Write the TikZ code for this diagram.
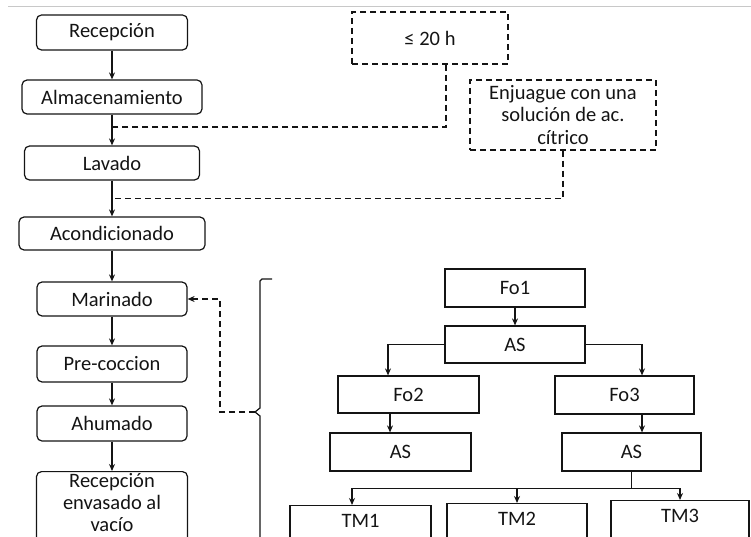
\documentclass[tikz,border=0pt]{standalone}
\usepackage{fontspec}
\setmainfont{Carlito}
\usepackage{tikz}
\usetikzlibrary{arrows.meta,positioning,calc}
\definecolor{ink}{HTML}{141414}
\definecolor{edge}{HTML}{C8C8C8}

\begin{document}
\begin{tikzpicture}[
    x=1pt, y=-1pt,
    every node/.style={font=\fontsize{20.5}{22.5}\selectfont, text=ink},
    stepbox/.style={rounded corners=5pt, draw=ink, line width=1.2pt, inner sep=0pt, minimum width=150pt, minimum height=35pt, align=center},
    treebox/.style={draw=ink, line width=1.2pt, inner sep=0pt, minimum width=140pt, minimum height=37pt, align=center},
    tmbox/.style={treebox, anchor=north, minimum height=50pt, text height=14pt, text depth=20pt},
    notebox/.style={draw=ink, line width=1.2pt, dash pattern=on 6pt off 4pt, inner sep=0pt, align=center},
    arr/.style={-{Stealth[length=7pt,width=6pt]}, line width=1.2pt, draw=ink},
    dline/.style={line width=1.2pt, draw=ink, dash pattern=on 6pt off 4pt}
  ]
  \useasboundingbox (0,0) rectangle (751,537);
  \clip (0,0) rectangle (751,537);

  \draw[edge, line width=1pt] (8,7) -- (751,7);

  % process steps
  \node[stepbox, minimum width=151pt] (rec) at (112,32.5) {Recepción};
  \node[stepbox, minimum width=180pt, minimum height=34pt] (alm) at (112,97) {Almacenamiento};
  \node[stepbox, minimum width=175pt, minimum height=34pt] (lav) at (112,163) {Lavado};
  \node[stepbox, minimum width=186pt, minimum height=33pt] (aco) at (112,233.5) {Acondicionado};
  \node[stepbox, minimum height=34pt] (mar) at (112,299) {Marinado};
  \node[stepbox, minimum height=36pt] (pre) at (112,364) {Pre-coccion};
  \node[stepbox] (ahu) at (112,423.5) {Ahumado};
  \node[stepbox, anchor=north, minimum width=151pt, minimum height=76pt, font=\fontsize{20.5}{22}\selectfont, text depth=14pt] (env) at (112,471) {Recepción\\envasado al\\vacío};

  \draw[arr] (rec) -- (alm);
  \draw[arr] (alm) -- (lav);
  \draw[arr] (lav) -- (aco);
  \draw[arr] (aco) -- (mar);
  \draw[arr] (mar) -- (pre);
  \draw[arr] (pre) -- (ahu);
  \draw[arr] (ahu) -- (env);

  % notes
  \node[notebox, minimum width=156pt, minimum height=52pt] (lim) at (430,38) {≤ 20 h};
  \node[notebox, minimum width=186pt, minimum height=70pt] (enj) at (563,115) {Enjuague con una\\solución de ac.\\cítrico};
  \coordinate (j1) at ($(alm.south)!0.4!(lav.north)$);
  \coordinate (j2) at ($(lav.south)!0.5!(aco.north)$);
  \draw[dline] ([xshift=16pt]lim.south) |- (j1);
  \draw[dline] (enj.south) |- (j2);

  % bracket
  \coordinate (brtip) at (255,412);
  \draw[line width=1.2pt, draw=ink] (272,279) -- (262,279) -- (260,281) -- (260,408) -- (brtip) -- (260,416) -- (260,545);
  \draw[arr, dline] (brtip) -- ++(-35,0) |- (mar.east);

  % formulation tree
  \node[treebox, minimum height=38pt] (fo1) at (515,288) {Fo1};
  \node[treebox] (as1) at (515,344.5) {AS};
  \node[treebox, minimum width=141pt] (fo2) at (408.5,394.5) {Fo2};
  \node[treebox, minimum width=139pt, minimum height=38pt] (fo3) at (624.5,395) {Fo3};
  \node[treebox, minimum width=141pt, minimum height=38pt] (as2) at (400.5,452) {AS};
  \node[treebox, minimum width=139pt, minimum height=38pt] (as3) at (631.5,452) {AS};
  \node[tmbox, minimum width=141pt] (tm1) at (360.5,505) {TM1};
  \node[tmbox] (tm2) at (517,503) {TM2};
  \node[tmbox, minimum width=138pt] (tm3) at (680,500) {TM3};

  \draw[arr] (fo1) -- (as1);
  \draw[arr] (as1.west) -| ([xshift=-20.5pt]fo2.north);
  \draw[arr] (as1.east) -| ([xshift=17.5pt]fo3.north);
  \draw[arr] ([xshift=-18.5pt]fo2.south) -- ([xshift=-18.5pt]fo2.south |- as2.north);
  \draw[arr] ([xshift=17.5pt]fo3.south) -- ([xshift=17.5pt]fo3.south |- as3.north);
  \coordinate (bus) at ([yshift=-17pt]as3.south);
  \draw[line width=1.2pt, draw=ink] (as3.south) -- (bus);
  \draw[arr] (bus) -| ([xshift=-8.5pt]tm1.north);
  \draw[arr] (bus) -| (tm3.north);
  \draw[arr] (bus -| tm2.north) -- (tm2.north);
\end{tikzpicture}
\end{document}
